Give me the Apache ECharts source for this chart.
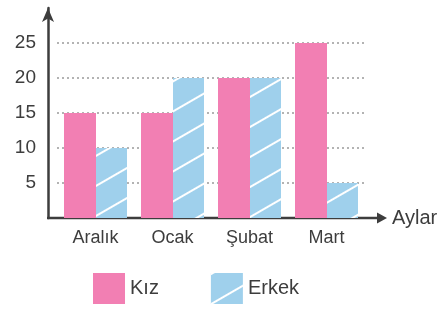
<!DOCTYPE html>
<html>
<head>
<meta charset="utf-8">
<script src="https://cdn.jsdelivr.net/npm/echarts@6/dist/echarts.min.js"></script>
<style>
  html, body { margin: 0; padding: 0; background: #fff; }
  #chart { width: 445px; height: 309px; }
</style>
</head>
<body>
<div id="chart"></div>
<script>
var months = ['Aralık', 'Ocak', 'Şubat', 'Mart'];
var kiz = [15, 15, 20, 25];
var erkek = [10, 20, 20, 5];
var yTicks = [5, 10, 15, 20, 25];

var ink = '#3d3d3d';
var font = 'Liberation Sans';

var myChart = echarts.init(document.getElementById('chart'));

option = {
    backgroundColor: '#fff',
    animation: false,
    grid: { left: 57, right: 80, top: 8, bottom: 91 },
    legend: {
        bottom: 0,
        left: 88,
        icon: 'rect',
        itemWidth: 32,
        itemHeight: 31,
        itemGap: 52,
        textStyle: { fontFamily: font, fontSize: 20, color: ink },
        data: ['Kız', 'Erkek']
    },
    xAxis: {
        type: 'category',
        data: months,
        axisLine: { show: false },
        axisTick: { show: false },
        axisLabel: { fontFamily: font, fontSize: 18, color: ink, margin: 11 },
        name: 'Aylar',
        nameLocation: 'end',
        nameGap: 27,
        nameTextStyle: { fontFamily: font, fontSize: 20, color: ink }
    },
    yAxis: {
        type: 'value',
        min: 0,
        max: 30,
        interval: 5,
        offset: 9,
        axisLine: {
            show: true,
            lineStyle: { color: ink, width: 2.5 },
            symbol: ['none', 'arrow'],
            symbolSize: [9, 14]
        },
        axisTick: { show: false },
        axisLabel: {
            fontFamily: font, fontSize: 19, color: ink, margin: 12,
            formatter: function (v) { return yTicks.indexOf(v) >= 0 ? String(v) : ''; }
        },
        splitLine: {
            show: true,
            showMinLine: false,
            showMaxLine: false,
            lineStyle: { color: '#9a9a9a', width: 1.5, type: [2, 3] }
        }
    },
    series: [
        {
            name: 'Kız',
            type: 'bar',
            data: kiz,
            barWidth: 32,
            barGap: '0%',
            itemStyle: { color: '#f27fb3' }
        },
        {
            name: 'Erkek',
            type: 'bar',
            data: erkek,
            barWidth: 31,
            itemStyle: {
                color: '#9fd0ec',
                decal: {
                    symbol: 'rect',
                    color: '#ffffff',
                    dashArrayX: [1, 0],
                    dashArrayY: [2, 24],
                    rotation: -Math.PI / 6
                }
            }
        }
    ],
    graphic: [
        {
            type: 'line',
            shape: { x1: 47, y1: 218, x2: 380, y2: 218 },
            style: { stroke: ink, lineWidth: 2.5 }
        },
        {
            type: 'polygon',
            shape: { points: [[377, 212.5], [387, 218], [377, 223.5]] },
            style: { fill: ink }
        }
    ]
};

myChart.setOption(option);
</script>
</body>
</html>
